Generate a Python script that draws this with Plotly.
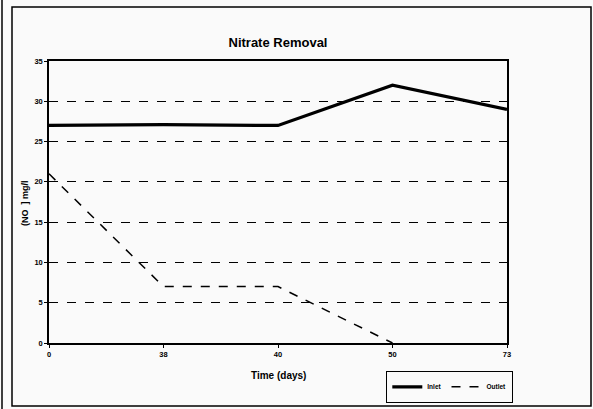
import plotly.graph_objects as go

days = ["0", "38", "40", "50", "73"]
inlet = [27, 27.1, 27, 32, 29]
outlet = [21, 7, 7, 0, None]
yticks = [0, 5, 10, 15, 20, 25, 30, 35]

W, H = 593, 409
L, R, T, B = 49, 507, 61, 343
pw, ph = R - L, B - T

def px(x):
    return (x - L) / pw

def py(y):
    return (B - y) / ph

idx = list(range(len(days)))
fig = go.Figure()
fig.add_trace(go.Scatter(x=idx, y=inlet, mode="lines", name="<b>Inlet</b>",
                         line=dict(color="black", width=3.2)))
fig.add_trace(go.Scatter(x=idx[:4], y=outlet[:4], mode="lines", name="<b>Outlet</b>",
                         line=dict(color="black", width=1.5, dash="dash")))

font = "Liberation Sans, Arial, sans-serif"
fig.update_layout(
    width=W, height=H,
    margin=dict(l=L, r=W - R, t=T, b=H - B, autoexpand=False),
    paper_bgcolor="#fafafa", plot_bgcolor="#fafafa",
    font=dict(family=font, color="black", size=8),
    title=dict(text="<b>Nitrate Removal</b>", x=0.5, xref="paper", xanchor="center",
               y=1 - 42 / H, yanchor="middle", font=dict(size=13, family=font)),
    showlegend=True,
    legend=dict(orientation="h", x=px(386), y=py(371), xanchor="left", yanchor="top",
                bordercolor="black", borderwidth=1.3, bgcolor="#fafafa",
                font=dict(size=6.5, family=font, color="black"), itemwidth=30,
                tracegroupgap=0, valign="middle"),
    xaxis=dict(range=[0, 4], tickvals=idx, ticktext=["<b>%s</b>" % d for d in days],
               showgrid=False, showline=True, linecolor="black", linewidth=1.5,
               mirror=True, ticks="outside", ticklen=3, tickcolor="black",
               tickfont=dict(size=7.5), zeroline=False, automargin=False),
    yaxis=dict(range=[0, 35], tickvals=yticks, ticktext=["<b>%d</b>" % v for v in yticks],
               showgrid=True, gridcolor="black", griddash="dash", gridwidth=1,
               showline=True, linecolor="black", linewidth=1.5, mirror=True,
               ticks="outside", ticklen=3, tickcolor="black", tickfont=dict(size=7.5),
               zeroline=False, automargin=False),
)

fig.add_annotation(text="<b>Time (days)</b>", xref="paper", yref="paper",
                   x=0.5, y=py(375), xanchor="center", yanchor="middle",
                   showarrow=False, font=dict(size=10))
fig.add_annotation(text="<b>(NO  ] mg/l</b>", xref="paper", yref="paper",
                   x=px(25), y=py(203), xanchor="center", yanchor="middle",
                   textangle=-90, showarrow=False, font=dict(size=9))

fig.add_shape(type="rect", xref="paper", yref="paper",
              x0=px(12), x1=px(591), y0=py(406), y1=py(7),
              line=dict(color="black", width=1.5))
fig.add_shape(type="line", xref="paper", yref="paper",
              x0=px(2), x1=px(2), y0=py(409), y1=py(0),
              line=dict(color="black", width=1.5))

fig.write_html("out.html", config={"displayModeBar": False},
               post_script="document.body.style.margin='0px';document.body.style.overflow='hidden';")
